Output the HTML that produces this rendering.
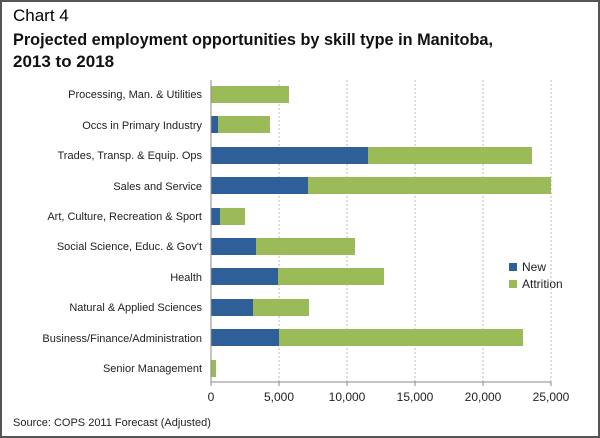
<!DOCTYPE html>
<html><head><style>
body{margin:0;width:600px;height:438px;overflow:hidden;background:#fff;font-family:"Liberation Sans",sans-serif}
.frame{position:absolute;left:0;top:0;width:596px;height:434px;border:2px solid #555;}
</style></head><body>
<div class="frame"></div>
<svg width="600" height="438" style="position:absolute;left:0;top:0" font-family="Liberation Sans, sans-serif">
<text x="13" y="21" font-size="17" fill="#000">Chart 4</text>
<text x="13" y="45" font-size="17" font-weight="bold" fill="#111" textLength="480" lengthAdjust="spacingAndGlyphs">Projected employment opportunities by skill type in Manitoba,</text>
<text x="13" y="67" font-size="17" font-weight="bold" fill="#111">2013 to 2018</text>
<g stroke="#bbb" stroke-dasharray="2,2">
<line x1="279" y1="80" x2="279" y2="382"/><line x1="347" y1="80" x2="347" y2="382"/>
<line x1="415" y1="80" x2="415" y2="382"/><line x1="483" y1="80" x2="483" y2="382"/>
<line x1="551" y1="80" x2="551" y2="382"/></g>
<g fill="#9bbb59">
<rect x="211" y="86" width="78" height="17"/>
<rect x="211" y="116" width="59" height="17"/>
<rect x="211" y="147" width="321" height="17"/>
<rect x="211" y="177" width="340" height="17"/>
<rect x="211" y="208" width="34" height="17"/>
<rect x="211" y="238" width="144" height="17"/>
<rect x="211" y="268" width="173" height="17"/>
<rect x="211" y="299" width="98" height="17"/>
<rect x="211" y="329" width="312" height="17"/>
<rect x="211" y="360" width="5" height="17"/>
</g>
<g fill="#2f5f98">
<rect x="211" y="116" width="7" height="17"/>
<rect x="211" y="147" width="157" height="17"/>
<rect x="211" y="177" width="97" height="17"/>
<rect x="211" y="208" width="9" height="17"/>
<rect x="211" y="238" width="45" height="17"/>
<rect x="211" y="268" width="67" height="17"/>
<rect x="211" y="299" width="42" height="17"/>
<rect x="211" y="329" width="68" height="17"/>
</g>
<line x1="211" y1="80" x2="211" y2="382" stroke="#888"/>
<line x1="211" y1="382" x2="551" y2="382" stroke="#888"/>
<g stroke="#888"><line x1="211" y1="382" x2="211" y2="386"/><line x1="279" y1="382" x2="279" y2="386"/><line x1="347" y1="382" x2="347" y2="386"/><line x1="415" y1="382" x2="415" y2="386"/><line x1="483" y1="382" x2="483" y2="386"/><line x1="551" y1="382" x2="551" y2="386"/></g>
<g font-size="11" fill="#222" text-anchor="end">
<text x="202" y="98">Processing, Man. &amp; Utilities</text>
<text x="202" y="129">Occs in Primary Industry</text>
<text x="202" y="159">Trades, Transp. &amp; Equip. Ops</text>
<text x="202" y="190">Sales and Service</text>
<text x="202" y="220">Art, Culture, Recreation &amp; Sport</text>
<text x="202" y="250">Social Science, Educ. &amp; Gov't</text>
<text x="202" y="281">Health</text>
<text x="202" y="311">Natural &amp; Applied Sciences</text>
<text x="202" y="342">Business/Finance/Administration</text>
<text x="202" y="372">Senior Management</text>
</g>
<g font-size="12" fill="#222" text-anchor="middle">
<text x="211" y="401">0</text><text x="279" y="401">5,000</text><text x="347" y="401">10,000</text>
<text x="415" y="401">15,000</text><text x="483" y="401">20,000</text><text x="551" y="401">25,000</text>
</g>
<rect x="509" y="263" width="8" height="8" fill="#2f5f98"/>
<text x="522" y="271" font-size="12" fill="#222">New</text>
<rect x="509" y="280" width="8" height="8" fill="#9bbb59"/>
<text x="522" y="288" font-size="12" fill="#222">Attrition</text>
<text x="13" y="426" font-size="11" fill="#222">Source: COPS 2011 Forecast (Adjusted)</text>
</svg>
</body></html>
